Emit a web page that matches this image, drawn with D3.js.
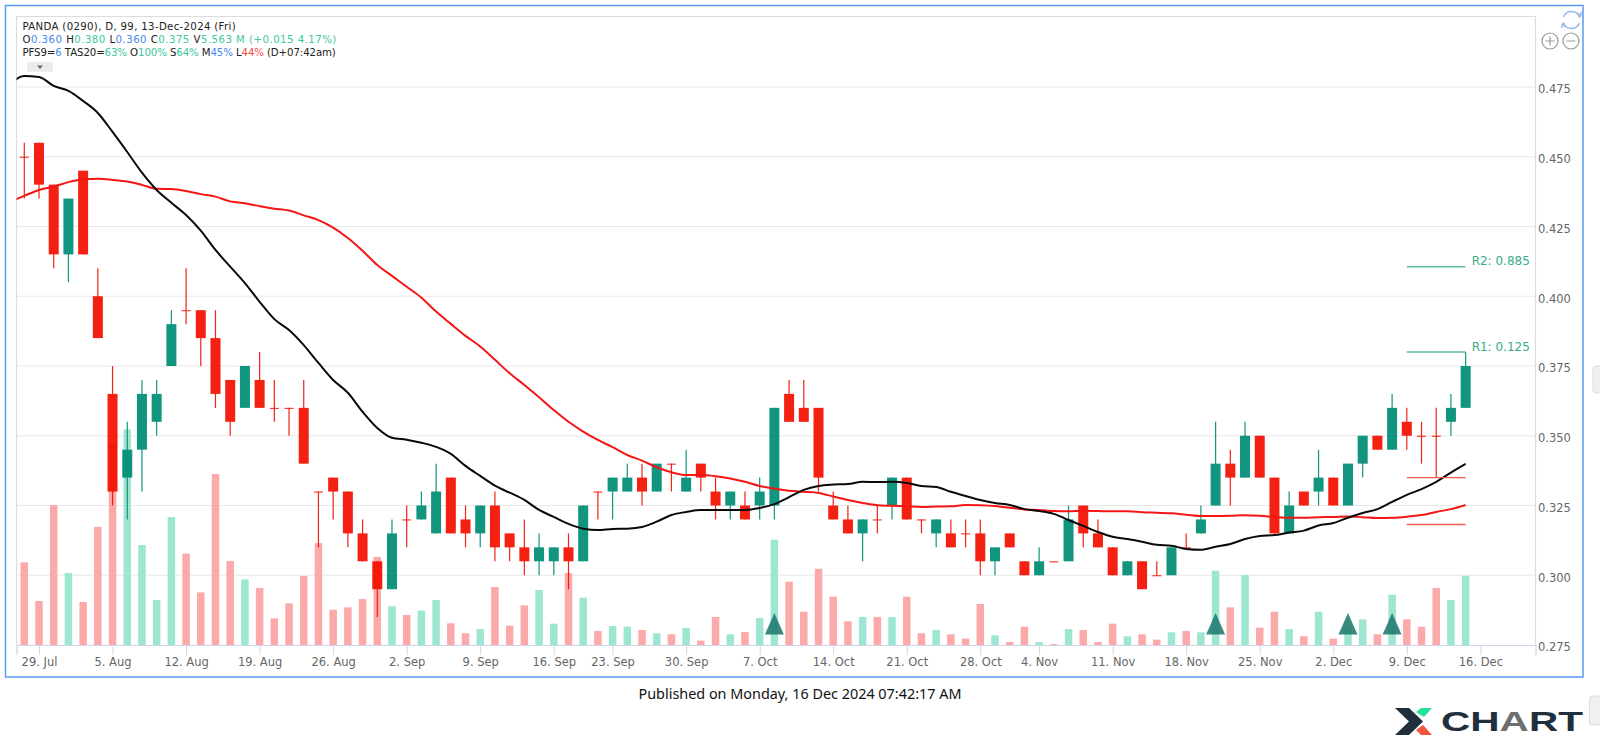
<!DOCTYPE html>
<html>
<head>
<meta charset="utf-8">
<title>PANDA (0290)</title>
<script src="https://cdn.jsdelivr.net/npm/d3@7"></script>
<style>
  html, body { margin: 0; padding: 0; background: #fff; overflow: hidden; }
  svg { display: block; }
  text { font-family: "DejaVu Sans", sans-serif; }
</style>
</head>
<body>
<svg id="chart" width="1600" height="737"></svg>
<script>
// daily bars
const opens = [.45,.455,.44,.415,.445,.40,.365,.335,.345,.355,.375,.395,.395,.385,.37,.36,.37,.36,.36,.36,.33,.335,.33,.315,.305,.295,.32,.32,.315,.335,.32,.315,.325,.315,.31,.305,.305,.31,.305,.33,.33,.33,.335,.33,.34,.33,.34,.33,.325,.325,.325,.325,.365,.36,.36,.325,.32,.315,.32,.325,.335,.32,.315,.315,.315,.315,.305,.315,.305,.30,.305,.305,.325,.315,.31,.30,.305,.30,.30,.31,.315,.325,.34,.335,.35,.335,.315,.33,.33,.335,.325,.34,.35,.345,.355,.35,.35,.355,.36];
const highs = [.455,.455,.44,.435,.445,.41,.375,.355,.37,.37,.395,.41,.395,.395,.37,.375,.38,.37,.36,.37,.33,.335,.33,.32,.305,.32,.325,.33,.34,.335,.325,.325,.33,.315,.32,.315,.31,.315,.325,.33,.335,.34,.34,.34,.34,.345,.34,.335,.33,.33,.335,.36,.37,.37,.36,.33,.325,.32,.325,.335,.335,.32,.32,.32,.32,.32,.31,.315,.305,.31,.305,.325,.325,.32,.31,.305,.305,.305,.31,.315,.325,.355,.345,.355,.35,.335,.33,.33,.345,.335,.34,.35,.35,.365,.36,.355,.36,.365,.38];
const lows = [.435,.435,.41,.405,.415,.385,.325,.32,.33,.35,.375,.39,.375,.36,.35,.36,.36,.355,.35,.34,.31,.32,.31,.305,.285,.295,.31,.32,.315,.315,.31,.31,.305,.305,.30,.30,.30,.295,.305,.32,.32,.33,.325,.33,.33,.33,.33,.32,.32,.32,.32,.32,.355,.355,.33,.32,.315,.305,.315,.32,.32,.315,.31,.31,.31,.30,.30,.31,.30,.30,.305,.305,.31,.31,.30,.30,.295,.30,.30,.31,.315,.325,.325,.335,.335,.315,.315,.325,.325,.325,.325,.335,.345,.345,.345,.34,.335,.35,.36];
const closes = [.45,.44,.415,.435,.415,.385,.33,.345,.365,.365,.39,.395,.385,.365,.355,.375,.36,.36,.36,.34,.33,.33,.315,.305,.295,.315,.32,.325,.33,.315,.315,.325,.31,.31,.305,.31,.31,.305,.325,.33,.335,.335,.33,.34,.34,.335,.335,.325,.33,.32,.33,.36,.355,.355,.335,.32,.315,.32,.32,.335,.32,.32,.32,.31,.315,.305,.31,.31,.30,.305,.305,.32,.315,.31,.30,.305,.295,.30,.31,.31,.32,.34,.335,.35,.335,.315,.325,.325,.335,.325,.34,.35,.345,.36,.35,.35,.35,.36,.375];
// volume in millions
const volumes = [6.63,3.53,11.23,5.78,3.45,9.49,16.2,17.3,8.02,3.61,10.27,7.33,4.22,13.72,6.74,5.27,4.57,2.14,3.34,5.53,8.18,2.83,3.02,3.69,7.06,3.10,2.41,2.75,3.61,1.74,.94,1.28,4.65,1.55,3.18,4.41,1.71,5.78,3.80,1.12,1.52,1.47,1.20,.94,.86,1.36,.35,2.25,.86,1.04,2.17,8.45,5.08,2.67,6.12,3.88,1.90,2.25,2.25,2.25,3.88,.94,1.20,.86,.51,3.29,.78,.24,1.47,.24,.08,1.28,1.20,.24,1.71,.70,.86,.43,1.02,1.12,1.02,5.96,3.02,5.61,1.39,2.67,1.28,.70,2.67,.51,1.44,2.06,.86,4.04,2.06,1.47,4.57,3.61,5.563];
// moving averages, first value sits one bar left of the plot
const maFast = [.4761,.4789,.4786,.4754,.4736,.4700,.4657,.4589,.4517,.4443,.4381,.4335,.4291,.4235,.4166,.4106,.4047,.3980,.3918,.3879,.3825,.3761,.3700,.3654,.3586,.3528,.3493,.3486,.3475,.3460,.3435,.3392,.3356,.3321,.3296,.3270,.3234,.3209,.3184,.3167,.3162,.3166,.3167,.3173,.3192,.3216,.3227,.3234,.3234,.3234,.3234,.3241,.3255,.3280,.3306,.3320,.3325,.3327,.3335,.3334,.3335,.3331,.3320,.3316,.3299,.3284,.3270,.3259,.3252,.3237,.3230,.3220,.3198,.3177,.3155,.3138,.3130,.3120,.3109,.3106,.3094,.3091,.3102,.3112,.3130,.3141,.3144,.3153,.3160,.3178,.3187,.3206,.3223,.3237,.3263,.3288,.3309,.3335,.3368,.3399];
const maSlow = [.4338,.4360,.4381,.4393,.4409,.4419,.4421,.4417,.4411,.4399,.4385,.4384,.4377,.4366,.4357,.4340,.4333,.4323,.4314,.4307,.4290,.4273,.4246,.4209,.4163,.4112,.4073,.4034,.3995,.3945,.3901,.3858,.3820,.3772,.3724,.3682,.3638,.3592,.3550,.3515,.3485,.3459,.3431,.3411,.3387,.3369,.3359,.3359,.3355,.3347,.3335,.3320,.3310,.3303,.3299,.3295,.3282,.3270,.3259,.3251,.3249,.3247,.3245,.3246,.3247,.3252,.3251,.3248,.3242,.3236,.3234,.3230,.3229,.3231,.3230,.3229,.3229,.3226,.3224,.3222,.3217,.3212,.3212,.3213,.3215,.3213,.3209,.3206,.3206,.3208,.3209,.3211,.3208,.3205,.3206,.3210,.3216,.3227,.3237,.3252];

const tickBars = [1,6,11,16,21,26,31,36,40,45,50,55,60,65,69,74,79,84,89,94,99];
const tickLabels = ["29. Jul","5. Aug","12. Aug","19. Aug","26. Aug","2. Sep","9. Sep","16. Sep","23. Sep","30. Sep","7. Oct","14. Oct","21. Oct","28. Oct","4. Nov","11. Nov","18. Nov","25. Nov","2. Dec","9. Dec","16. Dec"];
const priceTicks = [.275,.30,.325,.35,.375,.40,.425,.45,.475];

const signalBars = [51,81,90,93];
const resistLevels = [.4106,.38];
const resistLabels = ["R2: 0.885","R1: 0.125"];
const supportLevels = [.335,.3182];
const levelBars = [94,98];

const black = "#222", blue = "#4a86f0", green = "#3cc8a0", red = "#f44b4b";
const headerRows = [
  [["PANDA (0290), D, 99, 13-Dec-2024 (Fri)",black]],
  [["O",black],["0.360",blue],[" H",black],["0.380",green],[" L",black],["0.360",blue],[" C",black],["0.375",green],[" V",black],["5.563 M",green],[" (+0.015 4.17%)",green]],
  [["PFS9=",black],["6",blue],[" TAS20=",black],["63%",green],[" O",black],["100%",green],[" S",black],["64%",green],[" M",black],["45%",blue],[" L",black],["44%",red],[" (D+07:42am)",black]]
];
const headerSpacing = [.32,.46,-.1];

const upColor = "#008d76", downColor = "#f41000";
const upVol = "#9de6d1", downVol = "#fca9a9";

const svg = d3.select("#chart");
const plotL = 16.5, plotR = 1535.5, plotT = 16.5, plotB = 645;

const x = d3.scaleLinear().domain([-0.53,102.75]).range([plotL,plotR]);
const y = d3.scaleLinear().domain([.275,.475]).range([plotB,87]);
const yVol = d3.scaleLinear().domain([0,20]).range([plotB,plotB-249.2]);

svg.append("defs").append("clipPath").attr("id","plot")
  .append("rect").attr("x",plotL).attr("y",plotT).attr("width",plotR-plotL).attr("height",plotB-plotT);

// outer frame
svg.append("rect").attr("x",5.5).attr("y",5.5).attr("width",1577.5).attr("height",671.5)
  .attr("fill","none").attr("stroke","#5a9af5").attr("stroke-width",1.5);

// plot border
svg.append("path").attr("d",`M${plotL},${plotB}V${plotT}H${plotR}V${plotB}`)
  .attr("fill","none").attr("stroke","#dcdcdc").attr("stroke-width",1.2);

// grid
svg.append("g").selectAll("line").data(priceTicks.slice(1)).enter().append("line")
  .attr("x1",plotL).attr("x2",plotR)
  .attr("y1",d=>y(d)).attr("y2",d=>y(d))
  .attr("stroke","#e8e8e8").attr("stroke-width",1.2);

// axes
const xAxis = svg.append("g").attr("transform",`translate(0,${plotB})`)
  .call(d3.axisBottom(x).tickValues(tickBars).tickSize(10).tickPadding(2.5)
    .tickFormat((d,i)=>tickLabels[i]));
xAxis.select(".domain").attr("stroke","#ccd6eb").attr("stroke-width",1.2);
xAxis.selectAll(".tick line").attr("stroke","#ccd6eb");
xAxis.selectAll("text").attr("fill","#666").style("font-size","11.5px").style("font-family","DejaVu Sans");

const yAxis = svg.append("g").attr("transform",`translate(${plotR},0)`)
  .call(d3.axisRight(y).tickValues(priceTicks).tickSize(0).tickPadding(2.5).tickFormat(d3.format(".3f")));
yAxis.select(".domain").remove();
yAxis.selectAll("text").attr("fill","#666").attr("dy","0.5em").style("font-size","11.5px").style("font-family","DejaVu Sans");

// volume
svg.append("g").selectAll("rect").data(volumes).enter().append("rect")
  .attr("x",(d,i)=>x(i)-3.75)
  .attr("width",7.5)
  .attr("y",d=>yVol(d))
  .attr("height",d=>plotB-yVol(d))
  .attr("fill",(d,i)=>closes[i]>opens[i]?upVol:downVol);

// candles
const candles = svg.append("g").attr("opacity",.93);
const colorOf = i => closes[i]>opens[i]?upColor:downColor;
candles.selectAll("line.wick").data(opens).enter().append("line").attr("class","wick")
  .attr("x1",(d,i)=>x(i)).attr("x2",(d,i)=>x(i))
  .attr("y1",(d,i)=>y(highs[i])).attr("y2",(d,i)=>y(lows[i]))
  .attr("stroke",(d,i)=>colorOf(i)).attr("stroke-width",1.2);
candles.selectAll("rect").data(opens).enter().append("rect")
  .attr("x",(d,i)=>x(i)-(opens[i]==closes[i]?4.5:5))
  .attr("width",(d,i)=>opens[i]==closes[i]?9:10)
  .attr("y",(d,i)=>y(Math.max(opens[i],closes[i])))
  .attr("height",(d,i)=>Math.max(Math.abs(y(opens[i])-y(closes[i])),1))
  .attr("fill",(d,i)=>colorOf(i));

// moving averages
const maLine = d3.line().x((d,i)=>x(i-1)).y(d=>y(d)).curve(d3.curveMonotoneX);
const maGroup = svg.append("g").attr("clip-path","url(#plot)").attr("fill","none").attr("stroke-width",2);
maGroup.append("path").attr("d",maLine(maSlow)).attr("stroke","#f51515");
maGroup.append("path").attr("d",maLine(maFast)).attr("stroke","#0a0a0a");

// resistance and support levels
const levels = svg.append("g");
levels.selectAll("line.r").data(resistLevels).enter().append("line").attr("class","r")
  .attr("x1",x(levelBars[0])).attr("x2",x(levelBars[1]))
  .attr("y1",d=>y(d)).attr("y2",d=>y(d))
  .attr("stroke","#5cbf9f").attr("stroke-width",1.4);
levels.selectAll("line.s").data(supportLevels).enter().append("line").attr("class","s")
  .attr("x1",x(levelBars[0])).attr("x2",x(levelBars[1]))
  .attr("y1",d=>y(d)).attr("y2",d=>y(d))
  .attr("stroke","#f55a50").attr("stroke-width",1.4);
levels.selectAll("text").data(resistLevels).enter().append("text")
  .attr("x",x(levelBars[1])+6).attr("y",d=>y(d)-1.5)
  .attr("fill","#36ad87").style("font-size","12px")
  .text((d,i)=>resistLabels[i]);

// signal triangles
const tri = d3.line();
svg.append("g").selectAll("path").data(signalBars).enter().append("path")
  .attr("d",d=>{
    const c = x(d);
    return tri([[c,plotB-32],[c+9.5,plotB-10.5],[c-9.5,plotB-10.5]])+"Z";
  })
  .attr("fill","#1f7a6e").attr("opacity",.88);

// header text
const header = svg.append("g");
headerRows.forEach((row,i)=>{
  const t = header.append("text").attr("x",22.5).attr("y",30+13*i).style("font-size","10.2px")
    .style("letter-spacing",headerSpacing[i]+"px").style("white-space","pre");
  row.forEach(part=>t.append("tspan").attr("fill",part[1]).text(part[0]));
});
header.append("rect").attr("x",27).attr("y",62).attr("width",26).attr("height",10).attr("fill","#ececec");
header.append("path").attr("d",d3.line()([[37,65.5],[43,65.5],[40,69]])+"Z").attr("fill","#666");

// zoom buttons and reload icon
const icons = svg.append("g").attr("fill","none").attr("stroke","#999").attr("stroke-width",1.2);
icons.append("circle").attr("cx",1550).attr("cy",41).attr("r",8);
icons.append("circle").attr("cx",1571).attr("cy",41).attr("r",8);
icons.append("path").attr("d","M1545.5,41h9M1550,36.5v9M1566.5,41h9");
const arc = d3.arc().innerRadius(8.5).outerRadius(8.5);
const reload = svg.append("g").attr("transform","translate(1571.5,20)").attr("fill","none").attr("stroke","#9db8ee").attr("stroke-width",1.5);
reload.append("path").attr("d",arc({startAngle:-1.2,endAngle:1.3}));
reload.append("path").attr("d",arc({startAngle:1.95,endAngle:4.45}));
reload.append("path").attr("d","M6,-7l3,3l1,-4M-6,7l-3,-3l-1,4");

// side handles
svg.append("rect").attr("x",1593).attr("y",366).attr("width",12).attr("height",27).attr("rx",3)
  .attr("fill","#f0f0f0").attr("stroke","#dddddd");
svg.append("rect").attr("x",1589.5).attr("y",696).attr("width",12).attr("height",29).attr("rx",3)
  .attr("fill","#f0f0f0").attr("stroke","#dddddd");

// footer
svg.append("text").attr("x",800).attr("y",698.5).attr("text-anchor","middle")
  .attr("fill","#111").style("font-size","14px").style("font-family","Noto Sans")
  .attr("textLength",323).attr("lengthAdjust","spacingAndGlyphs")
  .text("Published on Monday, 16 Dec 2024 07:42:17 AM");

// logo
const logo = svg.append("g");
logo.append("path").attr("fill","#1f2f3d")
  .attr("d","M1395,708H1409L1423,721.5L1409,735H1395L1409,721.5Z");
logo.append("path").attr("fill","#23e39b").attr("d","M1421,708H1432L1424,717L1416,712Z");
logo.append("path").attr("fill","#f3553d").attr("d","M1416,730L1423,725L1432,735H1421Z");
const logoText = logo.append("text").attr("x",1441).attr("y",731)
  .attr("textLength",142).attr("lengthAdjust","spacingAndGlyphs")
  .style("font-size","28px").style("font-weight","700").style("font-family","Liberation Sans").attr("fill","#1f2f3d");
logoText.append("tspan").text("CH");
logoText.append("tspan").attr("fill","#6f6f6f").text("A");
logoText.append("tspan").text("RT");
</script>
</body>
</html>
